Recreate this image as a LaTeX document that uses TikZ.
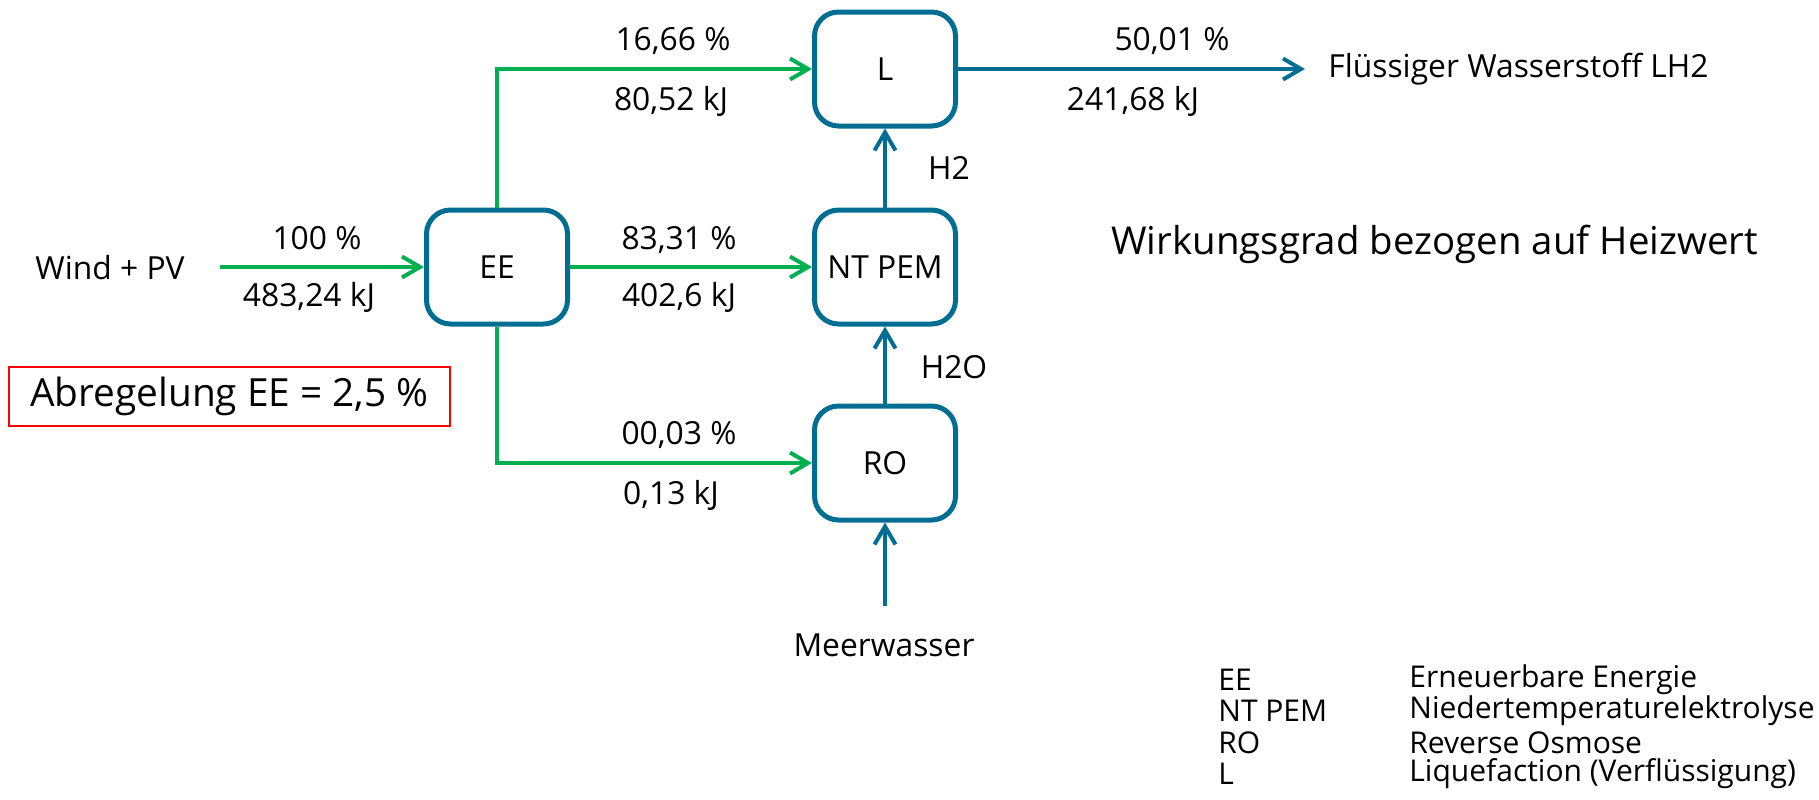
\documentclass[tikz,border=0pt]{standalone}
\usepackage{fontspec}
\setmainfont{Open Sans}
\usetikzlibrary{arrows.meta,positioning}
\definecolor{ptblue}{HTML}{006E92}
\definecolor{eegreen}{HTML}{00B050}

\begin{document}
\begin{tikzpicture}[x=0.5pt,y=-0.5pt,
    every node/.style={font=\fontsize{15.9}{18}\selectfont, inner sep=0pt},
    proc/.style={draw=ptblue, line width=2.5pt, rounded corners=12pt,
      minimum width=70.5pt, minimum height=57pt},
    big/.style={font=\fontsize{19.2}{22}\selectfont},
    legend/.style={anchor=west, font=\fontsize{15}{17}\selectfont},
    greenflow/.style={draw=eegreen, line width=2pt,
      -{Straight Barb[length=9pt,width=10.5pt,line width=2pt]}},
    blueflow/.style={draw=ptblue, line width=2pt,
      -{Straight Barb[length=9pt,width=10.5pt,line width=2pt]}}]
    \useasboundingbox (0,0) rectangle (1819,799);

    % process boxes
    \node[proc] (ee) at (497,267) {EE};
    \node[proc] (l) at (885,69) {L};
    \node[proc] (pem) at (885,267) {NT PEM};
    \node[proc] (ro) at (885,463) {RO};

    % inputs and outputs
    \node (wind) at (110,268) {Wind + PV};
    \coordinate (windend) at (220,267);
    \node (sea) at (884,645) {Meerwasser};
    \coordinate (seaend) at (885,606);
    \node[anchor=west] (lh2) at (1328,69) {Flüssiger Wasserstoff LH2};
    \coordinate (lh2end) at (1305,69);

    % connectors
    \draw[greenflow] (windend) -- (ee);
    \draw[greenflow] (ee.north) |- (l.west);
    \draw[greenflow] (ee) -- (pem);
    \draw[greenflow] (ee.south) |- (ro.west);
    \draw[blueflow] (pem) -- (l);
    \draw[blueflow] (ro) -- (pem);
    \draw[blueflow] (seaend) -- (ro);
    \draw[blueflow] (l) -- (lh2end);

    % flow values
    \node (p1) at (317,238) {100 \%};
    \node (e1) at (309,297) {483,24 kJ};
    \node (p2) at (673,41) {16,66 \%};
    \node (e2) at (671,101) {80,52 kJ};
    \node (p3) at (679,240) {83,31 \%};
    \node (e3) at (679,297) {402,6 kJ};
    \node (p4) at (679,435) {00,03 \%};
    \node (e4) at (671,495) {0,13 kJ};
    \node (p5) at (1172,41) {50,01 \%};
    \node (e5) at (1133,101) {241,68 kJ};
    \node (h2) at (949,168) {H2};
    \node (h2o) at (954,367) {H2O};

    % notes
    \node[font=\fontsize{19.4}{22}\selectfont, draw=red, line width=0.75pt,
      minimum width=220.5pt, minimum height=29.5pt] (curtail) at (229.5,396.5)
      {Abregelung EE = 2,5 \%};
    \node[big, anchor=west] (eta) at (1111,244) {Wirkungsgrad bezogen auf Heizwert};

    % legend
    \foreach \abbr/\desc [count=\i] in {EE/Erneuerbare Energie,
        NT PEM/Niedertemperaturelektrolyse, RO/Reverse Osmose,
        L/Liquefaction (Verflüssigung)} {
      \node[legend] (abbr\i) at (1218,648+31.5*\i) {\abbr};
      \node[legend] (desc\i) at (1409,648+31.5*\i) {\desc};
    }
\end{tikzpicture}
\end{document}
